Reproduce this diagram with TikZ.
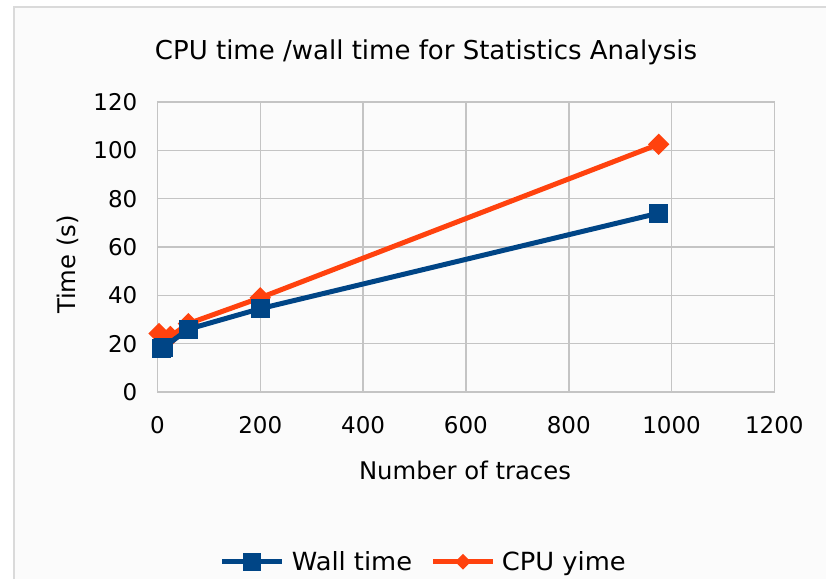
\documentclass[tikz,border=0pt]{standalone}
\usepackage{fontspec}
\setmainfont{DejaVu Sans}
\usepackage{tikz}
\usetikzlibrary{positioning,shapes.geometric}

\definecolor{wallblue}{HTML}{004586}
\definecolor{cpuorange}{HTML}{FF420E}
\definecolor{gridgray}{HTML}{C4C4C4}
\definecolor{framegray}{HTML}{DADADA}

\begin{document}
\begin{tikzpicture}[
      x=1pt, y=1pt,
      lbl/.style={font=\fontsize{23}{27}\selectfont, inner sep=0pt},
      axislbl/.style={font=\fontsize{24.3}{29}\selectfont, inner sep=0pt},
      keylbl/.style={font=\fontsize{25}{30}\selectfont, inner sep=0pt, xscale=1.03},
      titlelbl/.style={font=\fontsize{26}{31}\selectfont, inner sep=0pt},
      gridline/.style={draw=gridgray, line width=1.6pt},
      wallline/.style={draw=wallblue, line width=5pt},
      cpuline/.style={draw=cpuorange, line width=5pt, line join=round},
      wallmark/.style={fill=wallblue, minimum size=19pt, inner sep=0pt},
      cpumark/.style={fill=cpuorange, diamond, minimum size=21.5pt, inner sep=0pt}
      ]

  \useasboundingbox (0,0) rectangle (826,579);

  % chart frame
  \fill[black!1.5] (14,0) rectangle (826,572);
  \draw[framegray, line width=2pt] (14,0) -- (14,572) -- (826,572);

  \node[titlelbl, anchor=base] (title) at (426,519) {CPU time /wall time for Statistics Analysis};

  \begin{scope}[shift={(157.5pt,187pt)}, x=0.514pt, y=2.4167pt]

    \foreach \gx in {200,400,...,1000}
      \draw[gridline] (\gx,0) -- (\gx,120);
    \foreach \gy in {20,40,...,100}
      \draw[gridline] (0,\gy) -- (1200,\gy);
    \draw[gridline] (0,0) rectangle (1200,120);

    \foreach \gy in {0,20,...,120}
      \node[lbl, anchor=east] (yt\gy) at ([xshift=-20pt]0,\gy) {\gy};
    \foreach \gx in {0,200,...,1200}
      \node[lbl] (xt\gx) at ([yshift=-33pt]\gx,0) {\gx};

    % CPU time
    \foreach \n/\px/\py in {1/3/24.2, 2/25/23, 3/60/28.3, 4/200/39, 5/975/102.5}
      \coordinate (c\n) at (\px,\py);
    \draw[cpuline] (c1) -- (c2) -- (c3) -- (c4) -- (c5);
    \foreach \n in {1,...,5}
      \node[cpumark] (cm\n) at (c\n) {};

    % wall time
    \foreach \n/\px/\py in {1/7/18, 2/12/18.5, 3/60/26, 4/200/34.5, 5/975/74}
      \coordinate (w\n) at (\px,\py);
    \draw[wallline] (w1) -- (w2) -- (w3) -- (w4) -- (w5);
    \foreach \n in {1,...,5}
      \node[wallmark] (wm\n) at (w\n) {};

  \end{scope}

  \node[axislbl, anchor=base] (xlabel) at (465,100) {Number of traces};
  \node[axislbl, rotate=90] (ylabel) at (68,314.5) {Time (s)};

  % legend
  \coordinate (wkeyl) at (222,17.3);
  \coordinate (wkeyr) at (282,17.3);
  \draw[wallline] (wkeyl) -- (wkeyr);
  \node[wallmark, minimum size=18pt] (wkey) at (252,17.3) {};
  \node[keylbl, anchor=base west] (wtext) at (291.7,9) {Wall time};

  \coordinate (ckeyl) at (433,17.3);
  \coordinate (ckeyr) at (493,17.3);
  \draw[cpuline] (ckeyl) -- (ckeyr);
  \node[cpumark, minimum size=16pt] (ckey) at (463,17.3) {};
  \node[keylbl, anchor=base west] (ctext) at (501.7,9) {CPU yime};

\end{tikzpicture}
\end{document}
